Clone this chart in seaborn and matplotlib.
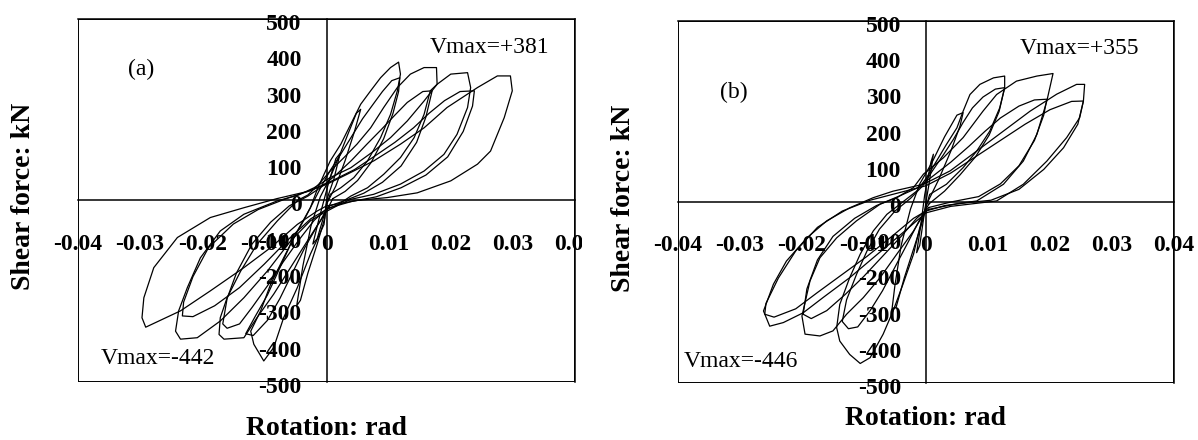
import pandas as pd
import seaborn as sns
import matplotlib.pyplot as plt
from matplotlib.patches import Rectangle
from matplotlib.transforms import Bbox, TransformedBbox, ScaledTranslation

# ---- panel (a): rotation (rad) / shear (kN), one list per cycle ----
a_rot = [
    [0, 0.0012, 0.0022, 0.0015, 0.0002, -0.0012, -0.0022, -0.0015, -0.0002, 0],
    [0.0, 0.0015, 0.003, 0.0045, 0.0055, 0.0048, 0.0035, 0.002, 0.0005, -0.001, -0.0025, -0.0038, -0.0048,
     -0.0042, -0.003, -0.0015, -0.0003, 0.0],
    [0.0, 0.0006, 0.0023, 0.0044, 0.0066, 0.0087, 0.0103, 0.0114, 0.0119, 0.0116,
     0.0103, 0.0087, 0.0071, 0.0055, 0.0039, 0.0023, 0.0006, -0.0004,
     -0.0015, -0.0026, -0.0047, -0.0069, -0.009, -0.0106, -0.0122, -0.0117, -0.0101,
     -0.0085, -0.0069, -0.0047, -0.0026, -0.0004, 0.0],
    [0.001, 0.003, 0.005, 0.0072, 0.0092, 0.0107, 0.0116, 0.0118,
     0.0105, 0.009, 0.0075, 0.0058, 0.004, 0.0022, 0.0005, -0.0008,
     -0.002, -0.0035, -0.0055, -0.0075, -0.0095, -0.0115, -0.013, -0.0118,
     -0.0095, -0.0075, -0.0055, -0.0035, -0.0015, 0.0, 0.001],
    [0.0, 0.002, 0.0039, 0.0066, 0.0092, 0.0119, 0.0141, 0.0157, 0.0167, 0.0178, 0.0177,
     0.0157, 0.0135, 0.0114, 0.0092, 0.0071, 0.0049, 0.0028, 0.0006,
     -0.0015, -0.003, -0.0047, -0.0079, -0.0112, -0.0138, -0.016, -0.0171, -0.0173, -0.0165,
     -0.0133, -0.0112, -0.0085, -0.0058, -0.0031, -0.001, 0.0],
    [0.0005, 0.003, 0.006, 0.009, 0.012, 0.0145, 0.016, 0.017,
     0.0155, 0.013, 0.011, 0.0088, 0.0065, 0.004, 0.0015, -0.001,
     -0.003, -0.006, -0.009, -0.012, -0.0145, -0.016, -0.0167, -0.016,
     -0.014, -0.012, -0.0095, -0.007, -0.0045, -0.002, 0.0005],
    [0.0, 0.002, 0.0039, 0.0076, 0.0119, 0.0157, 0.0189, 0.021, 0.0227, 0.0232, 0.0227,
     0.020, 0.0178, 0.0157, 0.013, 0.0103, 0.0076, 0.0039, 0.0006,
     -0.002, -0.0045, -0.0079, -0.0133, -0.0171, -0.0203, -0.0224, -0.0238, -0.0243, -0.0235,
     -0.0208, -0.0171, -0.0133, -0.0095, -0.0058, -0.0026, 0.0],
    [0.0005, 0.004, 0.008, 0.012, 0.016, 0.0195, 0.022, 0.0235, 0.0238,
     0.0215, 0.019, 0.0165, 0.014, 0.011, 0.008, 0.0045, 0.001,
     -0.0025, -0.0065, -0.011, -0.015, -0.019, -0.0215, -0.023, -0.0232,
     -0.0215, -0.018, -0.014, -0.01, -0.006, -0.0025, 0.0005],
    [0.0, 0.0049, 0.0098, 0.0146, 0.020, 0.0243, 0.0264, 0.0286, 0.0299, 0.0296,
     0.0275, 0.0243, 0.0194, 0.0157, 0.0119, 0.0076, 0.0033, 0.0001,
     -0.003, -0.008, -0.0133, -0.0187, -0.024, -0.0278, -0.0294, -0.0297, -0.0291,
     -0.0235, -0.0187, -0.0133, -0.009, -0.0047, -0.0015, 0.0],
]
a_shear = [
    [0, 60, 130, 115, 40, -50, -120, -105, -30, 0],
    [-10, 40, 110, 190, 251, 240, 185, 120, 60, 10, -70, -180, -290, -275, -200, -120, -50, -10],
    [-10, 17, 35, 63, 109, 173, 237, 302, 348, 381,
     366, 338, 302, 265, 210, 155, 109, 72,
     30, -20, -84, -158, -231, -304, -360, -396, -442,
     -405, -323, -240, -148, -66, -10],
    [5, 25, 55, 105, 170, 240, 300, 338,
     330, 300, 265, 225, 175, 125, 80, 40,
     0, -50, -110, -185, -260, -320, -367, -372,
     -330, -270, -200, -130, -70, -30, 5],
    [-25, -10, 12, 35, 72, 118, 173, 237, 302, 320, 366,
     366, 348, 311, 256, 200, 155, 118, 81,
     40, 15, 0, -56, -121, -194, -268, -323, -369, -382,
     -378, -323, -258, -185, -112, -56, -25],
    [-15, 0, 20, 50, 95, 160, 230, 302,
     300, 270, 235, 195, 155, 110, 70, 35,
     12, -15, -60, -120, -200, -270, -340, -352,
     -340, -295, -235, -170, -110, -55, -15],
    [-30, -12, 3, 17, 45, 81, 127, 182, 256, 311, 352,
     348, 320, 274, 219, 173, 136, 90, 63,
     35, 15, -1, -38, -84, -158, -240, -304, -360, -382,
     -378, -332, -268, -194, -112, -56, -30],
    [-20, -3, 10, 35, 70, 120, 190, 260, 302,
     300, 275, 240, 200, 160, 125, 85, 55,
     28, 5, -25, -65, -130, -210, -280, -318,
     -320, -290, -240, -175, -105, -50, -20],
    [-15, 0, 8, 21, 54, 100, 136, 228, 302, 343,
     343, 311, 256, 200, 155, 109, 72, 45,
     25, 5, -20, -47, -102, -185, -268, -323, -349,
     -304, -249, -185, -130, -66, -29, -15],
]

# ---- panel (b) ----
b_rot = [
    [0, 0.0005, 0.0012, 0.0008, -0.0002, -0.0008, -0.0015, -0.001, 0],
    [0.0, 0.002, 0.004, 0.0055, 0.006, 0.005, 0.003, 0.001, -0.001, -0.0025, -0.004, -0.005, -0.0055,
     -0.0048, -0.0035, -0.002, -0.0005, 0.0],
    [0.0, 0.0006, 0.0033, 0.006, 0.0082, 0.0103, 0.0119, 0.0127, 0.0127,
     0.0109, 0.0087, 0.0071, 0.006, 0.005, 0.0033, 0.0017, 0.0001,
     -0.0015, -0.0042, -0.0063, -0.0085, -0.0106, -0.0123, -0.0139, -0.0144, -0.0139, -0.0123, -0.0106,
     -0.009, -0.0069, -0.0053, -0.0037, -0.002, -0.001, 0.0],
    [0.0005, 0.003, 0.0055, 0.008, 0.0102, 0.0118, 0.0127,
     0.0112, 0.0092, 0.0075, 0.006, 0.0045, 0.0028, 0.001, -0.0005,
     -0.0025, -0.005, -0.0075, -0.0095, -0.0112, -0.0128, -0.0135, -0.0125,
     -0.011, -0.009, -0.007, -0.005, -0.003, -0.0012, 0.0005],
    [0.0, 0.003, 0.0082, 0.0125, 0.0157, 0.0179, 0.0195, 0.0205,
     0.0179, 0.0146, 0.0114, 0.0092, 0.006, 0.0028, -0.0004,
     -0.002, -0.0047, -0.0074, -0.0112, -0.0144, -0.0171, -0.0187, -0.020, -0.0195, -0.0171, -0.015,
     -0.0128, -0.0101, -0.0074, -0.0047, -0.002, -0.0007, 0.0],
    [0.0005, 0.004, 0.0085, 0.012, 0.015, 0.0175, 0.019, 0.0195,
     0.0175, 0.015, 0.012, 0.0095, 0.007, 0.004, 0.001,
     -0.0015, -0.0045, -0.008, -0.0115, -0.015, -0.0175, -0.0192, -0.0198, -0.0185,
     -0.016, -0.013, -0.01, -0.007, -0.004, -0.0015, 0.0005],
    [0.0, 0.004, 0.0114, 0.0157, 0.0195, 0.0227, 0.0248, 0.0254, 0.0256,
     0.0243, 0.0211, 0.0168, 0.0125, 0.0082, 0.0039, -0.0004,
     -0.0053, -0.0085, -0.0123, -0.016, -0.0192, -0.0225, -0.0246, -0.0262, -0.0252,
     -0.023, -0.0198, -0.0166, -0.0123, -0.0085, -0.0047, -0.0015, 0.0],
    [0.0005, 0.005, 0.0105, 0.015, 0.019, 0.0222, 0.0245, 0.0254,
     0.0235, 0.020, 0.016, 0.012, 0.008, 0.004, 0.0,
     -0.0045, -0.009, -0.0135, -0.0175, -0.021, -0.0238, -0.0258, -0.026, -0.0245,
     -0.021, -0.0175, -0.0135, -0.0095, -0.0055, -0.002, 0.0005],
]
b_shear = [
    [0, 50, 132, 110, 20, -60, -140, -120, 0],
    [-10, 60, 140, 210, 247, 240, 180, 110, 50, -20, -120, -230, -300, -290, -210, -130, -50, -10],
    [-15, 21, 49, 95, 141, 196, 260, 316, 348,
     343, 325, 297, 251, 205, 159, 113, 67,
     30, -6, -34, -80, -144, -209, -283, -347, -384, -421, -446,
     -430, -365, -301, -227, -144, -71, -15],
    [-5, 30, 75, 125, 185, 250, 316,
     312, 290, 260, 220, 175, 130, 85, 45,
     10, -25, -75, -135, -200, -270, -330, -350,
     -345, -300, -245, -180, -115, -55, -5],
    [-25, -10, 3, 49, 113, 187, 279, 355,
     348, 334, 297, 251, 178, 122, 77,
     40, 12, -6, -52, -99, -154, -218, -315, -365, -370, -356,
     -310, -264, -209, -144, -80, -43, -25],
    [-15, 0, 15, 50, 100, 170, 240, 284,
     282, 265, 232, 195, 155, 110, 70,
     38, 15, -10, -45, -95, -160, -240, -310, -322,
     -300, -255, -205, -150, -95, -45, -15],
    [-30, -12, 3, 49, 113, 178, 233, 279, 325,
     325, 298, 251, 196, 141, 86, 49,
     30, 12, -16, -52, -99, -163, -227, -301, -343,
     -333, -306, -264, -209, -154, -99, -52, -30],
    [-20, -5, 5, 35, 90, 150, 215, 279,
     278, 255, 215, 170, 125, 80, 45,
     25, 5, -25, -70, -135, -210, -280, -310, -318,
     -295, -250, -200, -150, -95, -45, -20],
]

x_ticks = [-0.04, -0.03, -0.02, -0.01, 0, 0.01, 0.02, 0.03, 0.04]
x_labels = ["-0.04", "-0.03", "-0.02", "-0.01", "0", "0.01", "0.02", "0.03", "0.04"]
y_ticks = [-500, -400, -300, -200, -100, 0, 100, 200, 300, 400, 500]
y_labels = ["-500", "-400", "-300", "-200", "-100", "0", "100", "200", "300", "400", "500"]

sns.set_style("white")
plt.rcParams["font.family"] = ["Liberation Serif", "DejaVu Serif"]
plt.rcParams["axes.unicode_minus"] = False
plt.rcParams["text.color"] = "black"


def to_frame(rot, shear):
    rows = []
    for i, (xs, ys) in enumerate(zip(rot, shear)):
        for x, y in zip(xs, ys):
            rows.append({"cycle": i, "rot": x, "shear": y})
    return pd.DataFrame(rows)


fig = plt.figure(figsize=(11.98, 4.40), dpi=100)
ax_a = fig.add_axes([0.0651, 0.1318, 0.4149, 0.8252])
ax_b = fig.add_axes([0.5659, 0.1295, 0.4140, 0.8227])

# axes, data, tag, tag pos, Vmax+, pos, Vmax-, pos, x-label y
panels = [
    (ax_a, a_rot, a_shear, "(a)", (0.10, 0.86), "Vmax=+381", (0.708, 0.92), "Vmax=-442", (0.046, 0.066), -0.127),
    (ax_b, b_rot, b_shear, "(b)", (0.085, 0.804), "Vmax=+355", (0.69, 0.925), "Vmax=-446", (0.012, 0.06), -0.097),
]

down = ScaledTranslation(0, -3 / 100, fig.dpi_scale_trans)

for ax, rot, shear, tag, tag_pos, vp, vp_pos, vn, vn_pos, xlab_y in panels:
    df = to_frame(rot, shear)
    sns.lineplot(data=df, x="rot", y="shear", units="cycle", estimator=None, sort=False,
                 color="black", lw=0.9, ax=ax, legend=False)
    ax.set_xlim(-0.04, 0.04)
    ax.set_ylim(-500, 500)
    ax.set_xticks(x_ticks)
    ax.set_xticklabels(x_labels)
    ax.set_yticks(y_ticks)
    ax.set_yticklabels(y_labels)
    ax.set_axisbelow(True)

    # crossing axes at zero, with a frame around the plot area
    ax.spines["left"].set_position(("data", 0))
    ax.spines["bottom"].set_position(("data", 0))
    for s in ax.spines.values():
        s.set_color("black")
        s.set_linewidth(1.1)
    ax.add_patch(Rectangle((0, 0), 1, 1, transform=ax.transAxes, fill=False,
                           ec="black", lw=1.4, zorder=3))
    ax.tick_params(axis="both", direction="in", length=5, width=1, colors="black",
                   labelsize=17)
    ax.tick_params(axis="x", pad=24)
    ax.tick_params(axis="y", pad=18)
    for lab in ax.get_xticklabels() + ax.get_yticklabels():
        lab.set_fontweight("bold")
    for lab in ax.get_yticklabels():
        lab.set_transform(lab.get_transform() + down)

    ax.set_xlabel("")
    ax.set_ylabel("")
    ax.text(0.5, xlab_y, "Rotation: rad", transform=ax.transAxes, ha="center", va="center",
            fontsize=20, fontweight="bold")
    ax.text(-0.109, 0.51, "Shear force: kN", transform=ax.transAxes,
            ha="center", va="center", rotation=90, fontsize=20, fontweight="bold")
    ax.text(tag_pos[0], tag_pos[1], tag, transform=ax.transAxes, ha="left", va="center", fontsize=17)
    ax.text(vp_pos[0], vp_pos[1], vp, transform=ax.transAxes, ha="left", va="center", fontsize=17)
    ax.text(vn_pos[0], vn_pos[1], vn, transform=ax.transAxes, ha="left", va="center", fontsize=17)

# the left picture is cropped just past its frame
clip = TransformedBbox(Bbox([[0, 0], [0.486, 1]]), fig.transFigure)
for lab in ax_a.get_xticklabels():
    lab.set_clip_on(True)
    lab.set_clip_box(clip)

fig.savefig("out.png", dpi=100)
